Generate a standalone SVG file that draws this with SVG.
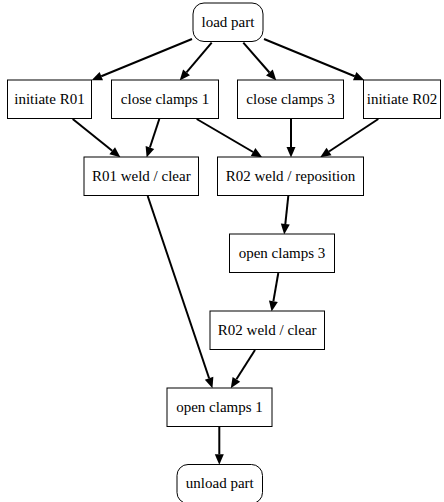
<svg xmlns="http://www.w3.org/2000/svg" width="444" height="502" viewBox="0 0 444 502">
<style>
.n rect{fill:#fff;stroke:#000;stroke-width:1}
.n text{font-family:'Liberation Serif','Times New Roman',Times,serif;font-size:15px;text-anchor:middle;fill:#000}
.e line{stroke:#000;stroke-width:2}
</style>
<defs>
<marker id="ah" markerUnits="userSpaceOnUse" markerWidth="11" markerHeight="9" refX="0" refY="4.5" orient="auto" overflow="visible">
<path d="M0,0 L10.5,4.5 L0,9 z" fill="#000"/>
</marker>
</defs>
<rect width="444" height="502" fill="#fff"/>
<g id="edges" class="e">
<line x1="192" y1="39" x2="101.3" y2="76.2" marker-end="url(#ah)"/>
<line x1="211.7" y1="42.7" x2="186.5" y2="72.4" marker-end="url(#ah)"/>
<line x1="243.3" y1="42.7" x2="269.4" y2="72.5" marker-end="url(#ah)"/>
<line x1="264" y1="39" x2="354.7" y2="76.2" marker-end="url(#ah)"/>
<line x1="72.7" y1="119" x2="112.2" y2="150.7" marker-end="url(#ah)"/>
<line x1="159.3" y1="119" x2="149.9" y2="147.5" marker-end="url(#ah)"/>
<line x1="196.7" y1="119" x2="253.1" y2="152" marker-end="url(#ah)"/>
<line x1="291" y1="119" x2="291" y2="147" marker-end="url(#ah)"/>
<line x1="378.3" y1="119" x2="329" y2="151.5" marker-end="url(#ah)"/>
<line x1="288.3" y1="196" x2="285.3" y2="224.1" marker-end="url(#ah)"/>
<line x1="278.3" y1="273" x2="273.4" y2="301.2" marker-end="url(#ah)"/>
<line x1="147.7" y1="196" x2="209.1" y2="378.2" marker-end="url(#ah)"/>
<line x1="255" y1="350" x2="236.4" y2="379.3" marker-end="url(#ah)"/>
<line x1="219.3" y1="426.5" x2="219.3" y2="454.3" marker-end="url(#ah)"/>
</g>
<g id="load_part" class="n"><rect x="193" y="3" width="70" height="38.5" rx="11"/><text x="228" y="27">load part</text></g>
<g id="initiate_R01" class="n"><rect x="7.5" y="80" width="84" height="38.5"/><text x="49.5" y="104">initiate R01</text></g>
<g id="close_clamps_1" class="n"><rect x="111.5" y="80" width="107" height="38.5"/><text x="165" y="104">close clamps 1</text></g>
<g id="close_clamps_3" class="n"><rect x="237.5" y="80" width="106" height="38.5"/><text x="290.5" y="104">close clamps 3</text></g>
<g id="initiate_R02" class="n"><rect x="363.5" y="80" width="77" height="38.5"/><text x="402" y="104">initiate R02</text></g>
<g id="R01_weld_clear" class="n"><rect x="84" y="157" width="114.5" height="38.5"/><text x="141.3" y="181">R01 weld / clear</text></g>
<g id="R02_weld_reposition" class="n"><rect x="217.5" y="157" width="146" height="38.5"/><text x="290.5" y="181">R02 weld / reposition</text></g>
<g id="open_clamps_3" class="n"><rect x="229.5" y="234" width="105" height="38.5"/><text x="282" y="258">open clamps 3</text></g>
<g id="R02_weld_clear" class="n"><rect x="210" y="311" width="114.5" height="38.5"/><text x="267.2" y="335">R02 weld / clear</text></g>
<g id="open_clamps_1" class="n"><rect x="167" y="388" width="105" height="38.5"/><text x="219.5" y="412">open clamps 1</text></g>
<g id="unload_part" class="n"><rect x="177" y="464.5" width="85.5" height="39" rx="11"/><text x="219.8" y="488">unload part</text></g>
</svg>
